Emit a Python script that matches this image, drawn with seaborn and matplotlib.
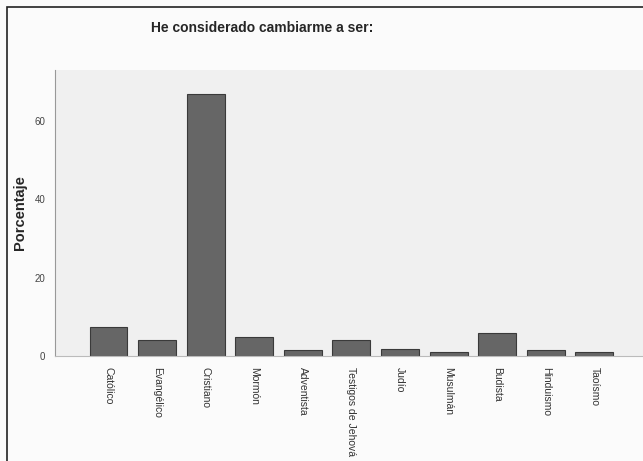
import matplotlib
matplotlib.use("Agg")
import matplotlib.pyplot as plt
import pandas as pd
import seaborn as sns
from matplotlib.patches import Rectangle

categorias = [
    "Católico", "Evangélico", "Cristiano", "Mormón", "Adventista",
    "Testigos de Jehová", "Judío", "Musulmán", "Budista", "Hinduismo", "Taoísmo",
]
porcentajes = [7.4, 4.1, 66.8, 4.9, 1.5, 4.1, 1.7, 0.9, 5.9, 1.5, 0.9]
y_ticks = [0, 20, 40, 60]

df = pd.DataFrame({"religion": categorias, "porcentaje": porcentajes})

sns.set_style("white", {"axes.facecolor": "#f0f0f0", "figure.facecolor": "#fbfbfb"})
plt.rcParams["font.family"] = ["Liberation Sans", "DejaVu Sans"]

fig = plt.figure(figsize=(6.43, 4.61), dpi=100)
ax = fig.add_axes([55 / 643, 105 / 461, 588 / 643, 286 / 461])

sns.barplot(data=df, x="religion", y="porcentaje", color="#666666",
            edgecolor="#3a3a3a", linewidth=0.8, width=0.78, saturation=1, ax=ax)

ax.set_xlim(-1.1, 11.0)
ax.set_ylim(0, 73)
ax.set_yticks(y_ticks)
ax.set_yticklabels([str(t) for t in y_ticks], fontsize=7, color="#444444")
ax.set_xticks(range(len(categorias)))
ax.set_xticklabels(categorias, rotation=270, fontsize=7.5, color="#333333")
ax.tick_params(axis="both", length=5, width=0.8, color="#777777", pad=2)
ax.tick_params(axis="x", length=7, pad=1)

for side in ["top", "right"]:
    ax.spines[side].set_visible(False)
ax.spines["left"].set_color("#999999")
ax.spines["bottom"].set_color("#bbbbbb")

ax.set_xlabel("")
ax.set_ylabel("Porcentaje", fontsize=10.5, fontweight="bold")
ax.yaxis.set_label_coords(-28 / 588, 0.5)

fig.text(262 / 643, 1 - 28 / 461, "He considerado cambiarme a ser:",
         ha="center", va="center", fontsize=10, fontweight="bold")

fig.patches.append(Rectangle((7 / 643, -0.1), 1.2, 1.1 - 7 / 461,
                             transform=fig.transFigure, fill=False,
                             edgecolor="#222222", linewidth=1.2))

fig.savefig("out.png", dpi=100)
